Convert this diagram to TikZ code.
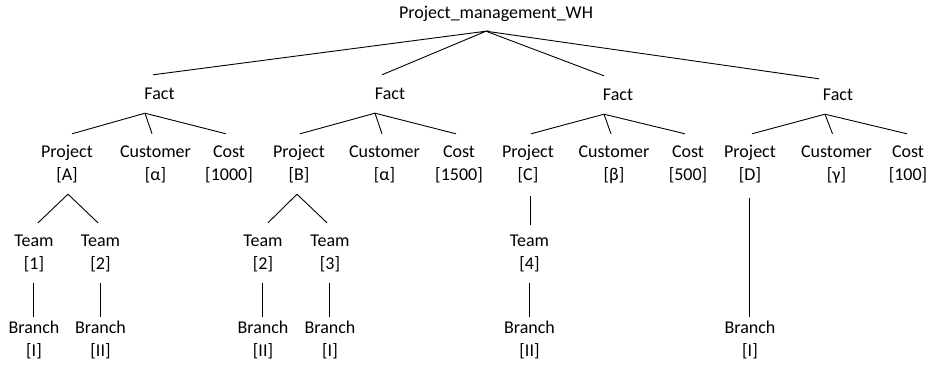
\documentclass[tikz,border=0pt]{standalone}
\usepackage{fontspec}
\setmainfont{Carlito}
\newcommand\twoline[2]{\strut#1\\\strut#2}
\begin{document}
\begin{tikzpicture}[x=1pt,y=-1pt,
  every node/.style={font=\fontsize{18}{23}\selectfont, inner sep=0pt, align=center},
  rootnode/.style={minimum height=35pt},
  factnode/.style={minimum height=38pt},
  fieldnode/.style={minimum height=60pt},
  teamnode/.style={minimum height=60pt},
  branchnode/.style={minimum height=42pt},
  conn/.style={line width=0.9pt}]
\useasboundingbox (0,0) rectangle (930,367);
% root
\node[rootnode] (root) at (496,13.5) {Project\_management\_WH};
% facts
\node[factnode] (f1) at (159.5,94) {Fact};
\node[factnode] (f2) at (390,94) {Fact};
\node[factnode] (f3) at (618,95) {Fact};
\node[factnode] (f4) at (838,95) {Fact};
% fields
\node[fieldnode] (p1) at (67,164) {\twoline{Project}{[A]}};
\node[fieldnode] (c1) at (155.5,164) {\twoline{Customer}{[α]}};
\node[fieldnode] (k1) at (229,164) {\twoline{Cost}{[1000]}};
\node[fieldnode] (p2) at (299,164) {\twoline{Project}{[B]}};
\node[fieldnode] (c2) at (384.5,164) {\twoline{Customer}{[α]}};
\node[fieldnode] (k2) at (459,164) {\twoline{Cost}{[1500]}};
\node[fieldnode] (p3) at (528,164) {\twoline{Project}{[C]}};
\node[fieldnode] (c3) at (614,164) {\twoline{Customer}{[β]}};
\node[fieldnode] (k3) at (688,164) {\twoline{Cost}{[500]}};
\node[fieldnode] (p4) at (750,164) {\twoline{Project}{[D]}};
\node[fieldnode] (c4) at (836.5,164) {\twoline{Customer}{[γ]}};
\node[fieldnode] (k4) at (908,164) {\twoline{Cost}{[100]}};
% teams
\node[teamnode] (t1) at (34,253) {\twoline{Team}{[1]}};
\node[teamnode] (t2) at (100.5,253) {\twoline{Team}{[2]}};
\node[teamnode] (t3) at (263,253) {\twoline{Team}{[2]}};
\node[teamnode] (t4) at (330,253) {\twoline{Team}{[3]}};
\node[teamnode] (t5) at (529.5,253) {\twoline{Team}{[4]}};
% branches
\node[branchnode] (b1) at (34,340) {\twoline{Branch}{[I]}};
\node[branchnode] (b2) at (100.5,340) {\twoline{Branch}{[II]}};
\node[branchnode] (b3) at (263,340) {\twoline{Branch}{[II]}};
\node[branchnode] (b4) at (330,340) {\twoline{Branch}{[I]}};
\node[branchnode] (b5) at (529.5,340) {\twoline{Branch}{[II]}};
\node[branchnode] (b6) at (750,340) {\twoline{Branch}{[I]}};
% connectors root -> facts
\draw[conn] ([xshift=-6.5pt]f1.north) -- ([xshift=-10pt]root.south) -- ([xshift=-8pt]f2.north);
\draw[conn] ([xshift=-10pt]root.south) -- ([xshift=-14pt]f3.north);
\draw[conn] ([xshift=-10pt]root.south) -- ([xshift=-19pt,yshift=-3pt]f4.north);
% facts -> fields
\draw[conn] ([xshift=5pt]p1.north) -- ([xshift=-14.5pt]f1.south) -- ([xshift=-3pt]k1.north);
\draw[conn] ([xshift=-14.5pt]f1.south) -- ([xshift=-3.5pt]c1.north);
\draw[conn] ([xshift=1pt]p2.north) -- ([xshift=-15pt]f2.south) -- ([xshift=-3pt]k2.north);
\draw[conn] ([xshift=-15pt]f2.south) -- ([xshift=-2.5pt]c2.north);
\draw[conn] ([xshift=3pt]p3.north) -- ([xshift=-14pt]f3.south) -- ([xshift=-3pt]k3.north);
\draw[conn] ([xshift=-14pt]f3.south) -- ([xshift=-3pt]c3.north);
\draw[conn] ([xshift=2pt]p4.north) -- ([xshift=-13pt]f4.south) -- ([xshift=-1pt]k4.north);
\draw[conn] ([xshift=-13pt]f4.south) -- ([xshift=-4pt]c4.north);
% projects -> teams
\draw[conn] ([xshift=4pt]t1.north) -- ([xshift=1pt]p1.south) -- ([xshift=-2.5pt]t2.north);
\draw[conn] ([xshift=5pt]t3.north) -- ([xshift=-2pt]p2.south) -- ([xshift=-3pt]t4.north);
\draw[conn] ([xshift=2pt,yshift=-2pt]p3.south) -- ([xshift=0.5pt,yshift=-2pt]t5.north);
\draw[conn] ([xshift=-1pt,yshift=-4pt]p4.south) -- ([xshift=-1pt]b6.north);
% teams -> branches
\draw[conn] ([xshift=-1pt]t1.south) -- ([xshift=-1pt]b1.north);
\draw[conn] ([xshift=-0.5pt]t2.south) -- ([xshift=-0.5pt]b2.north);
\draw[conn] ([xshift=-1pt]t3.south) -- ([xshift=-1pt]b3.north);
\draw[conn] ([xshift=-1pt]t4.south) -- ([xshift=-1pt]b4.north);
\draw[conn] (t5.south) -- (b5.north);
\end{tikzpicture}
\end{document}
